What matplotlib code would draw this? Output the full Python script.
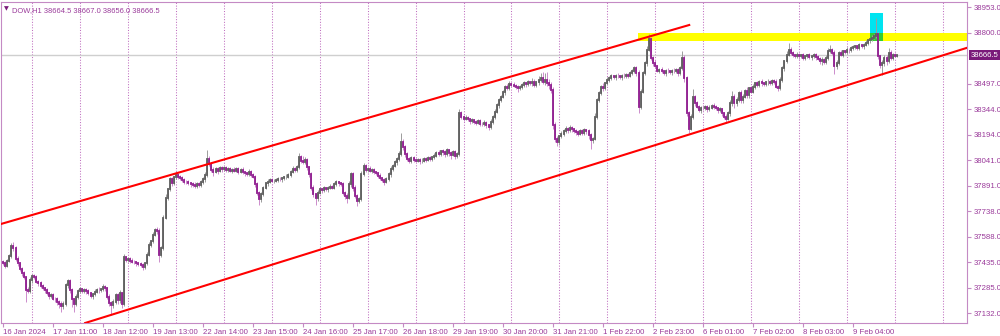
import matplotlib.pyplot as plt
from matplotlib.patches import Rectangle
import matplotlib.transforms as mtransforms
import numpy as np

plt.rcParams['font.family'] = ['Liberation Sans', 'DejaVu Sans']

# DOW H1 closes, 16 Jan 2024 10:00 -> 9 Feb 2024
close = [
    37430, 37415, 37445, 37470, 37530, 37520, 37455, 37430, 37395, 37370,
    37345, 37270, 37265, 37330, 37355, 37345, 37320, 37310, 37295, 37280,
    37270, 37250, 37235, 37240, 37220, 37215, 37200, 37190, 37175, 37185,
    37300, 37325, 37270, 37215, 37190, 37230, 37265, 37275, 37265, 37270,
    37262, 37250, 37235, 37245, 37260, 37272, 37268, 37275, 37290, 37280,
    37230, 37195, 37180, 37200, 37240, 37210, 37250, 37185, 37465, 37450,
    37455, 37445, 37440, 37435, 37430, 37425, 37420, 37410, 37430, 37480,
    37540, 37560, 37600, 37630, 37620, 37480, 37520, 37700, 37820, 37870,
    37930, 37905, 37940, 37955, 37945, 37935, 37925, 37915, 37910, 37905,
    37900, 37895, 37890, 37900, 37895, 37910, 37930, 37955, 38050, 38020,
    37985, 37975, 37990, 37980, 37995, 37990, 37995, 37985, 37990, 37980,
    37985, 37980, 37990, 37975, 37985, 37970, 37965, 37960, 37975, 37955,
    37945, 37900, 37850, 37810, 37840, 37880, 37905, 37915, 37925, 37920,
    37920, 37925, 37930, 37928, 37935, 37940, 37945, 37955, 37975, 37990,
    37985, 38000, 38060, 38040, 38030, 38045, 38000, 37960, 37880, 37840,
    37815, 37850, 37870, 37865, 37875, 37870, 37880, 37885, 37880, 37900,
    37910, 37905, 37900, 37850, 37830, 37820, 37900, 37960, 37880, 37830,
    37800, 37810, 37960, 38010, 37985, 37990, 37980, 37985, 37970, 37965,
    37950, 37935, 37925, 37915, 37930, 37960, 37990, 38010, 38030, 38050,
    38080, 38150, 38120, 38080, 38050, 38035, 38055, 38045, 38040, 38045,
    38035, 38040, 38050, 38045, 38055, 38050, 38060, 38070, 38085, 38080,
    38095, 38090, 38080, 38100, 38085, 38075, 38090, 38070, 38080, 38320,
    38300, 38290, 38295, 38285, 38275, 38280, 38270, 38265, 38275, 38260,
    38255, 38265, 38250, 38240, 38270, 38300, 38330, 38370, 38400, 38420,
    38445, 38480, 38470, 38495, 38490, 38485, 38480, 38470, 38475, 38490,
    38500, 38495, 38505, 38500, 38510, 38490, 38505, 38520, 38530, 38510,
    38520, 38500, 38490, 38460, 38250, 38170, 38150, 38185, 38200, 38215,
    38230, 38220, 38235, 38225, 38215, 38210, 38200, 38215, 38205, 38220,
    38215, 38190, 38160, 38170, 38300, 38400, 38440, 38480, 38470, 38500,
    38520, 38530, 38540, 38535, 38545, 38540, 38535, 38545, 38540, 38550,
    38545, 38560, 38575, 38590, 38560, 38360, 38450, 38560, 38620, 38700,
    38760, 38650, 38620, 38600, 38575, 38580, 38570, 38560, 38575, 38570,
    38565, 38575, 38570, 38580, 38560, 38590, 38650, 38530, 38320, 38230,
    38300, 38420, 38380, 38360, 38340, 38355, 38350, 38360, 38345, 38355,
    38365, 38360, 38350, 38340, 38345, 38320, 38300, 38290, 38320, 38380,
    38420, 38380, 38400, 38440, 38400, 38420, 38455, 38430, 38470, 38450,
    38480, 38500, 38490, 38510, 38500, 38495, 38505, 38510, 38500, 38515,
    38510, 38480, 38470, 38520, 38590, 38630, 38670, 38700, 38680, 38665,
    38660, 38670, 38660, 38665, 38650, 38660, 38665, 38655, 38660, 38670,
    38655, 38645, 38630, 38640, 38625, 38650, 38690, 38700, 38680, 38600,
    38620, 38680, 38670, 38690, 38685, 38700, 38695, 38710, 38715, 38720,
    38710, 38725, 38720, 38730, 38740, 38755, 38760, 38770, 38780, 38790,
    38660, 38610, 38620, 38650, 38630, 38680, 38650, 38670, 38664.5, 38666.5,
]
first_open = 37440

# wick lengths (points) above / below the body
wick_up = [
    10, 15, 10, 15, 20, 25, 10, 15, 10, 10,
    15, 10, 20, 15, 10, 10, 15, 10, 15, 10,
    10, 15, 10, 15, 10, 10, 15, 10, 15, 20,
    15, 10, 10, 15, 10, 15, 10, 15, 10, 10,
    10, 15, 10, 10, 15, 10, 15, 10, 15, 10,
    10, 15, 10, 20, 10, 15, 20, 10, 20, 10,
    10, 10, 15, 10, 10, 10, 15, 10, 10, 15,
    15, 10, 15, 10, 15, 20, 10, 15, 20, 10,
    15, 10, 10, 15, 10, 10, 15, 10, 10, 15,
    10, 10, 15, 10, 10, 15, 10, 15, 50, 15,
    10, 15, 10, 10, 15, 10, 10, 15, 10, 10,
    10, 15, 10, 10, 10, 15, 10, 10, 15, 10,
    10, 10, 15, 10, 15, 10, 10, 15, 10, 10,
    10, 10, 15, 10, 10, 10, 15, 10, 10, 15,
    10, 15, 25, 15, 30, 15, 10, 10, 10, 15,
    10, 15, 10, 10, 15, 10, 10, 15, 10, 10,
    15, 10, 10, 15, 10, 15, 20, 15, 10, 15,
    10, 15, 20, 15, 10, 10, 15, 10, 10, 10,
    10, 15, 10, 10, 15, 10, 15, 10, 15, 10,
    15, 55, 20, 15, 10, 10, 15, 10, 10, 10,
    10, 15, 10, 10, 15, 10, 10, 15, 10, 15,
    10, 15, 10, 15, 10, 10, 15, 10, 10, 25,
    15, 10, 15, 10, 10, 15, 10, 10, 15, 10,
    10, 15, 10, 10, 15, 10, 15, 10, 15, 10,
    15, 10, 15, 20, 10, 15, 10, 10, 15, 10,
    15, 10, 15, 10, 20, 15, 10, 20, 30, 35,
    40, 45, 25, 20, 15, 20, 15, 10, 15, 10,
    15, 10, 15, 10, 10, 15, 10, 15, 10, 15,
    10, 10, 15, 10, 20, 15, 15, 10, 20, 10,
    15, 10, 15, 10, 10, 15, 10, 10, 15, 10,
    10, 15, 10, 15, 15, 20, 15, 15, 10, 20,
    30, 15, 10, 15, 10, 10, 15, 10, 10, 15,
    10, 10, 15, 10, 10, 15, 40, 15, 10, 15,
    15, 45, 10, 15, 10, 10, 15, 10, 10, 15,
    10, 15, 10, 10, 15, 10, 10, 15, 15, 20,
    35, 15, 20, 15, 20, 15, 10, 20, 10, 15,
    15, 10, 15, 10, 15, 10, 10, 15, 10, 10,
    10, 15, 10, 15, 15, 10, 20, 40, 15, 10,
    10, 15, 10, 10, 15, 10, 10, 15, 10, 10,
    10, 15, 10, 15, 10, 15, 20, 30, 10, 15,
    15, 10, 15, 10, 10, 15, 10, 10, 15, 10,
    10, 15, 10, 10, 15, 10, 10, 15, 10, 100,
    15, 10, 15, 20, 15, 30, 15, 10, 10, 0.5,
]
wick_dn = [
    10, 15, 10, 10, 10, 15, 10, 15, 10, 15,
    10, 70, 15, 10, 15, 10, 10, 15, 10, 10,
    15, 10, 15, 10, 10, 15, 20, 25, 35, 15,
    10, 15, 20, 45, 50, 15, 10, 15, 10, 10,
    15, 10, 10, 15, 10, 10, 15, 10, 10, 15,
    15, 20, 60, 15, 10, 20, 15, 20, 10, 15,
    10, 15, 10, 10, 15, 10, 10, 20, 15, 10,
    10, 15, 10, 10, 15, 45, 15, 10, 10, 15,
    10, 15, 10, 10, 15, 10, 10, 15, 10, 10,
    15, 10, 10, 15, 10, 10, 10, 15, 10, 15,
    15, 25, 10, 20, 10, 15, 10, 10, 15, 10,
    15, 10, 10, 15, 10, 10, 15, 10, 10, 15,
    10, 15, 15, 35, 15, 10, 10, 15, 10, 10,
    15, 10, 10, 10, 15, 10, 10, 10, 15, 10,
    15, 10, 10, 15, 10, 10, 15, 20, 15, 15,
    40, 15, 10, 15, 10, 10, 15, 10, 10, 10,
    10, 15, 10, 15, 20, 30, 10, 15, 20, 15,
    30, 15, 10, 10, 15, 10, 10, 15, 10, 10,
    15, 10, 15, 20, 10, 10, 15, 10, 10, 15,
    10, 15, 15, 20, 15, 10, 10, 15, 10, 10,
    15, 10, 10, 15, 10, 10, 15, 10, 10, 15,
    10, 15, 20, 10, 15, 25, 10, 20, 15, 10,
    10, 15, 10, 10, 15, 10, 10, 15, 10, 15,
    10, 10, 15, 20, 10, 15, 10, 10, 15, 10,
    10, 15, 10, 10, 15, 10, 15, 20, 10, 10,
    10, 15, 10, 10, 15, 10, 10, 15, 10, 15,
    20, 15, 25, 20, 25, 20, 25, 15, 10, 15,
    10, 15, 10, 15, 10, 15, 15, 10, 15, 10,
    15, 20, 50, 15, 10, 15, 10, 10, 15, 10,
    10, 15, 10, 10, 15, 10, 10, 15, 10, 10,
    15, 10, 10, 15, 15, 35, 15, 10, 10, 15,
    10, 15, 15, 10, 10, 15, 10, 10, 15, 10,
    10, 15, 10, 10, 15, 10, 10, 20, 15, 25,
    10, 15, 15, 10, 10, 15, 10, 10, 15, 10,
    10, 15, 10, 15, 10, 15, 15, 25, 10, 15,
    15, 25, 15, 10, 20, 15, 10, 20, 15, 10,
    10, 15, 10, 10, 15, 10, 10, 15, 10, 10,
    15, 10, 15, 10, 10, 15, 10, 10, 15, 10,
    10, 10, 15, 10, 10, 15, 10, 10, 15, 10,
    15, 10, 15, 20, 10, 10, 15, 10, 15, 45,
    15, 10, 10, 15, 10, 10, 15, 10, 10, 10,
    15, 10, 10, 15, 10, 10, 15, 10, 10, 10,
    15, 20, 60, 15, 20, 10, 15, 10, 10, 8.5,
]

x_labels = ['16 Jan 2024', '17 Jan 11:00', '18 Jan 12:00', '19 Jan 13:00',
            '22 Jan 14:00', '23 Jan 15:00', '24 Jan 16:00', '25 Jan 17:00',
            '26 Jan 18:00', '29 Jan 19:00', '30 Jan 20:00', '31 Jan 21:00',
            '1 Feb 22:00', '2 Feb 23:00', '6 Feb 01:00', '7 Feb 02:00',
            '8 Feb 03:00', '9 Feb 04:00']
y_ticks = [37132.0, 37285.0, 37435.0, 37588.0, 37738.0, 37891.0, 38041.0,
           38194.0, 38344.0, 38497.0, 38800.0, 38953.0]
last_price = 38666.5

# channel lines (bar, price)
upper_line = [(-1.0, 37663), (329.3, 38846)]
lower_line = [(45.5, 37098), (440.0, 38623)]
# zones
zone_yellow = (304.9, 38752, 38800)
zone_cyan = (416.1, 422.3, 38752, 38920)

close = np.array(close)
opens = np.concatenate([[first_open], close[:-1]])
top = np.maximum(opens, close)
bot = np.minimum(opens, close)
high = top + np.array(wick_up)
low = bot - np.array(wick_dn)
idx = np.arange(len(close))
up = close >= opens

purple_txt = '#9a3a9a'
frame = '#c48ac4'
fs = 5.6

fig = plt.figure(figsize=(10, 3.36), dpi=100)
ax = fig.add_axes([0.001, 13 / 336, 0.966, 322 / 336 - 0.003])
ax.set_xlim(-0.96, 462.6)
ax.set_ylim(37074.5, 38982.7)

# zones (behind candles)
ax.add_patch(Rectangle((zone_yellow[0], zone_yellow[1]), 300, zone_yellow[2] - zone_yellow[1],
                       facecolor='#ffff00', edgecolor='none', zorder=1))
ax.add_patch(Rectangle((zone_cyan[0], zone_cyan[2]), zone_cyan[1] - zone_cyan[0],
                       zone_cyan[3] - zone_cyan[2], facecolor='#00e4f0', edgecolor='none', zorder=1.1))
ax.add_patch(Rectangle((zone_cyan[0], zone_yellow[1]), zone_cyan[1] - zone_cyan[0],
                       zone_yellow[2] - zone_yellow[1], facecolor='#33cc33', edgecolor='none', zorder=1.2))

# day separators
for b in range(14, 463, 23):
    ax.axvline(b, color='#c070c0', lw=0.75, ls=(0, (1, 1.6)), zorder=0.5)

ax.axhline(last_price, color='#cfcfcf', lw=1, zorder=0.8)

# candles
ax.vlines(idx[up], low[up], high[up], color='#9c9c9c', lw=0.7, zorder=2)
ax.vlines(idx[~up], low[~up], high[~up], color='#cc8ccc', lw=0.7, zorder=2)
ax.vlines(idx[up], bot[up], top[up], color='#5c5c5c', lw=1.3, zorder=3, capstyle='projecting')
ax.vlines(idx[~up], bot[~up], top[~up], color='#8e1a8e', lw=1.3, zorder=3, capstyle='projecting')

# channel
ax.plot([p[0] for p in upper_line], [p[1] for p in upper_line], color='#ff0000', lw=1.5, zorder=4)
ax.axline(lower_line[0], lower_line[1], color='#ff0000', lw=1.5, zorder=4)

for s in ax.spines.values():
    s.set_color(frame)
    s.set_linewidth(0.8)

ax.yaxis.tick_right()
ax.set_yticks(y_ticks)
ax.set_yticklabels([f'{v:.1f}' for v in y_ticks])
ax.set_xticks(range(0, 24 * len(x_labels), 24))
ax.set_xticklabels(x_labels)
for lab in ax.get_xticklabels():
    lab.set_horizontalalignment('left')
ax.tick_params(axis='both', colors=frame, labelcolor=purple_txt, labelsize=fs, length=3, width=0.8)
ax.tick_params(axis='y', pad=1.5)
ax.tick_params(axis='x', pad=1)

# current price tag
trans = mtransforms.blended_transform_factory(ax.transAxes, ax.transData)
ax.text(1.004, last_price, f'{last_price:.1f}', transform=trans, ha='left', va='center',
        fontsize=fs, color='white', zorder=10, clip_on=False,
        bbox=dict(boxstyle='square,pad=0.2', facecolor='#7a1a7a', edgecolor='none'))

ax.text(0.003, 0.987, '\u25bc', transform=ax.transAxes, ha='left', va='top',
        fontsize=4.5, color='#7a1a7a', family=['DejaVu Sans'])
ax.text(0.011, 0.985, 'DOW,H1 38664.5 38667.0 38656.0 38666.5', transform=ax.transAxes,
        ha='left', va='top', fontsize=5.4, color=purple_txt)

fig.savefig('out.png', dpi=100, facecolor='white')
